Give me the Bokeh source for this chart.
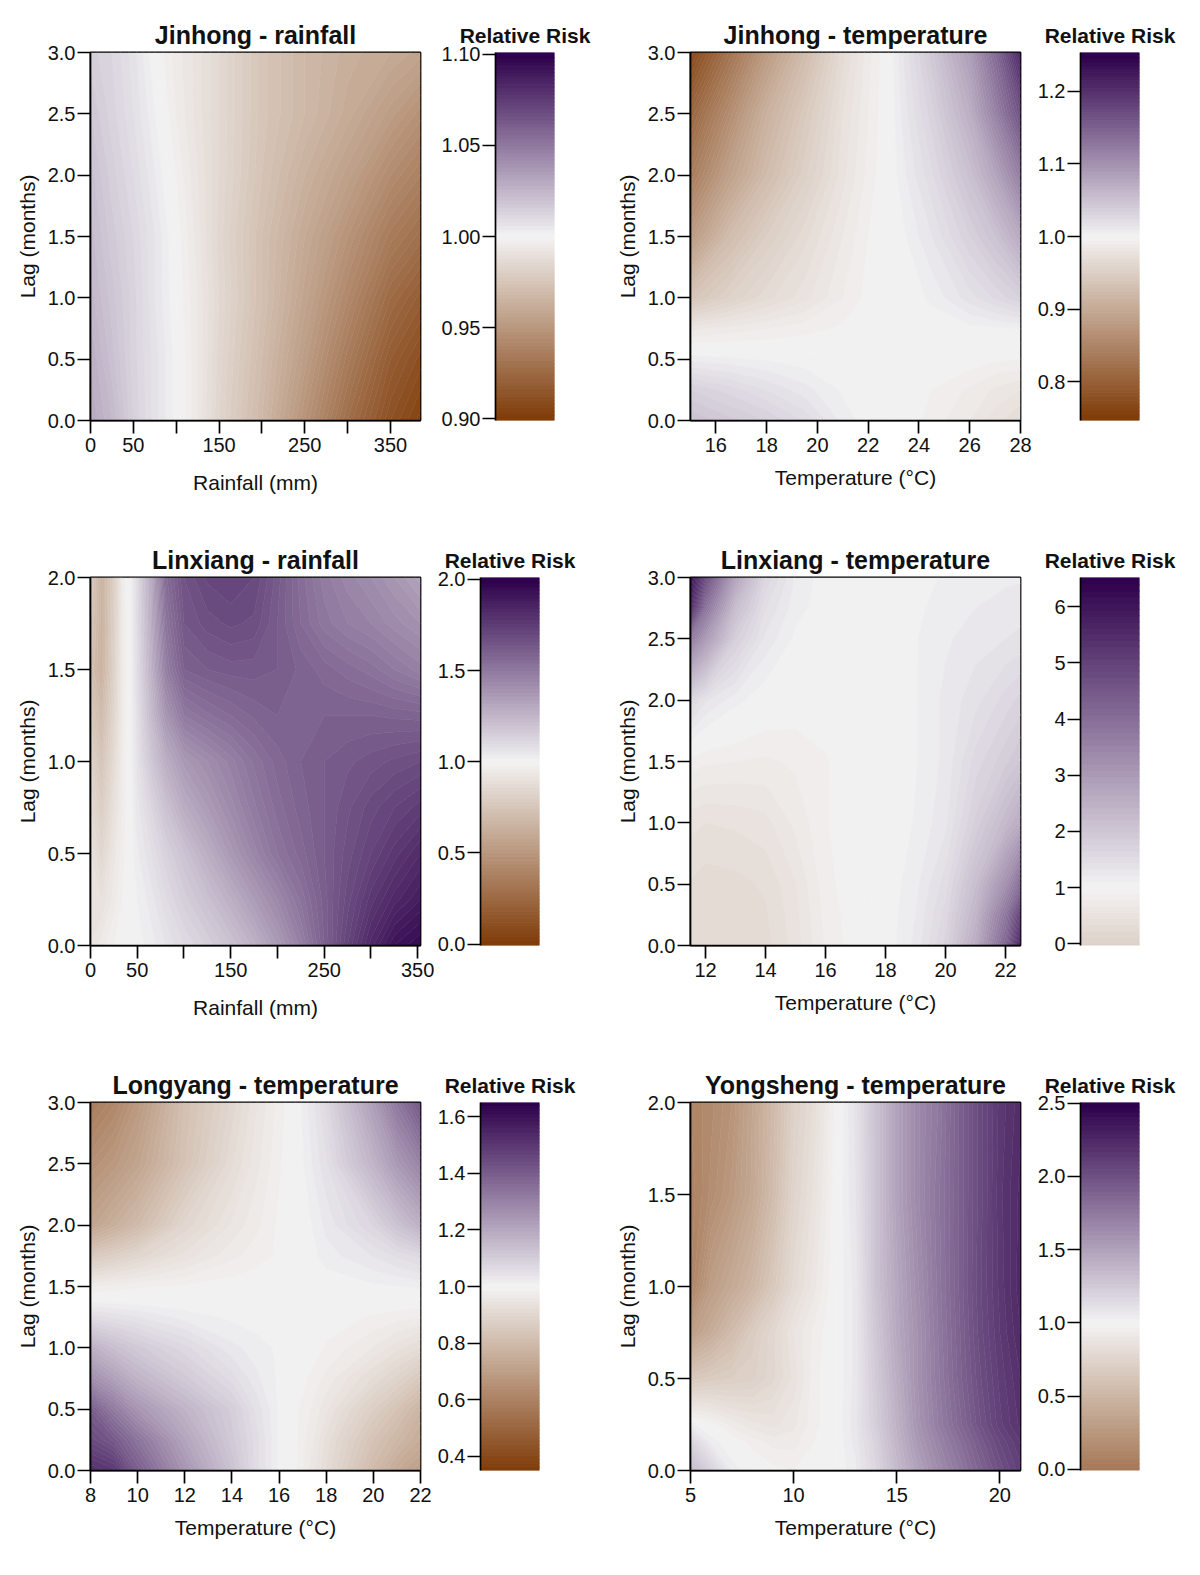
from bokeh.plotting import figure
from bokeh.layouts import row, column
from bokeh.models import FixedTicker, Range1d
from bokeh.embed import file_html
from bokeh.resources import INLINE
import numpy as np

FONT = "Liberation Sans"
TEXT = "#111111"

# ---- Panel 1: Jinhong rainfall
jr_x = [0, 25, 50, 75, 100, 125, 150, 200, 250, 300, 350, 385]
jr_lag = [0, 0.5, 1, 1.5, 2, 2.5, 3]
jr_rr = [
    [1.030, 1.024, 1.014, 1.007, 1.001, .994, .984, .968, .948, .928, .912, .905],
    [1.028, 1.021, 1.013, 1.007, 1.001, .994, .985, .970, .953, .935, .918, .911],
    [1.025, 1.019, 1.013, 1.006, 1.000, .994, .986, .972, .957, .942, .926, .919],
    [1.023, 1.017, 1.012, 1.006, .9995, .993, .985, .972, .960, .948, .935, .929],
    [1.021, 1.015, 1.010, 1.004, .998, .992, .986, .974, .964, .955, .944, .938],
    [1.018, 1.013, 1.008, 1.002, .996, .991, .986, .975, .968, .961, .953, .947],
    [1.015, 1.012, 1.007, 1.000, .995, .991, .986, .975, .968, .963, .960, .957],
]
# ---- Panel 2: Jinhong temperature
jt_x = [15, 16.5, 18, 19.5, 21, 22, 22.8, 23.5, 24.5, 26, 27, 28]
jt_lag = [0, .25, .5, .75, 1, 1.5, 2, 2.5, 3]
jt_rr = [
    [1.050, 1.042, 1.035, 1.024, 1.008, 1.002, 1.000, .998, .993, .985, .977, .970],
    [1.035, 1.028, 1.020, 1.012, 1.004, 1.001, 1.000, .999, .995, .989, .984, .980],
    [1.008, 1.006, 1.004, 1.002, 1.001, 1.000, 1.000, 1.000, .999, .998, .996, .995],
    [.983, .987, .990, .993, .996, .999, 1.000, 1.001, 1.002, 1.003, 1.004, 1.005],
    [.937, .955, .968, .978, .990, .997, 1.000, 1.002, 1.006, 1.018, 1.026, 1.035],
    [.880, .925, .950, .968, .985, .995, 1.000, 1.005, 1.015, 1.035, 1.050, 1.075],
    [.840, .887, .925, .953, .978, .992, 1.000, 1.010, 1.024, 1.052, 1.080, 1.120],
    [.810, .860, .910, .943, .975, .990, 1.000, 1.014, 1.033, 1.070, 1.115, 1.165],
    [.770, .825, .880, .925, .968, .988, 1.000, 1.018, 1.043, 1.088, 1.140, 1.210],
]
# ---- Panel 3: Linxiang rainfall
lr_x = [0, 12, 25, 35, 42, 50, 65, 80, 100, 125, 150, 175, 200, 225, 250, 275, 300, 325, 353]
lr_lag = [0, .25, .5, .75, 1, 1.25, 1.5, 1.75, 2]
lr_rr = [
    [.92, .95, .98, .995, 1.000, 1.010, 1.030, 1.060, 1.100, 1.145, 1.200, 1.270, 1.360, 1.470, 1.600, 1.720, 1.830, 1.920, 1.960],
    [.91, .90, .95, .985, 1.000, 1.020, 1.050, 1.095, 1.150, 1.210, 1.280, 1.360, 1.440, 1.525, 1.610, 1.690, 1.770, 1.830, 1.880],
    [.90, .85, .93, .975, 1.000, 1.035, 1.080, 1.135, 1.200, 1.285, 1.370, 1.450, 1.520, 1.570, 1.620, 1.670, 1.720, 1.770, 1.820],
    [.86, .80, .90, .970, 1.000, 1.050, 1.120, 1.200, 1.290, 1.360, 1.430, 1.495, 1.550, 1.590, 1.620, 1.655, 1.690, 1.720, 1.750],
    [.82, .75, .87, .970, 1.000, 1.070, 1.180, 1.280, 1.370, 1.420, 1.470, 1.525, 1.570, 1.600, 1.620, 1.635, 1.650, 1.665, 1.680],
    [.77, .70, .84, .965, 1.000, 1.080, 1.230, 1.380, 1.500, 1.535, 1.560, 1.585, 1.600, 1.600, 1.600, 1.600, 1.600, 1.595, 1.590],
    [.72, .65, .82, .965, 1.000, 1.090, 1.270, 1.470, 1.600, 1.620, 1.630, 1.630, 1.620, 1.595, 1.570, 1.550, 1.530, 1.500, 1.470],
    [.75, .65, .81, .965, 1.000, 1.095, 1.290, 1.510, 1.640, 1.670, 1.685, 1.675, 1.620, 1.560, 1.510, 1.480, 1.460, 1.430, 1.400],
    [.78, .65, .80, .970, 1.000, 1.100, 1.300, 1.550, 1.660, 1.705, 1.720, 1.700, 1.630, 1.550, 1.490, 1.450, 1.420, 1.380, 1.330],
]
# ---- Panel 4: Linxiang temperature
lt_x = [11.5, 12, 13, 14, 15, 16, 17, 18, 19, 20, 21, 22, 22.5]
lt_lag = [0, .25, .5, 1, 1.5, 2, 2.5, 2.75, 3]
lt_rr = [
    [.32, .25, .25, .30, .50, .80, .95, 1.03, 1.25, 1.70, 2.60, 4.20, 5.70],
    [.32, .27, .27, .32, .52, .82, .96, 1.03, 1.22, 1.60, 2.40, 3.80, 5.00],
    [.33, .28, .30, .36, .55, .85, .97, 1.03, 1.18, 1.50, 2.20, 3.20, 4.00],
    [.48, .45, .47, .52, .70, .88, .97, 1.02, 1.12, 1.30, 1.80, 2.30, 2.60],
    [.85, .80, .78, .76, .80, .88, .96, 1.00, 1.10, 1.25, 1.60, 1.85, 2.00],
    [1.60, 1.35, 1.15, 1.02, .97, .95, .98, 1.02, 1.10, 1.25, 1.40, 1.60, 1.70],
    [3.70, 3.00, 1.80, 1.30, 1.08, 1.02, 1.02, 1.05, 1.10, 1.20, 1.28, 1.33, 1.35],
    [5.50, 3.90, 2.20, 1.45, 1.15, 1.05, 1.03, 1.05, 1.09, 1.15, 1.22, 1.28, 1.30],
    [6.10, 4.80, 2.80, 1.65, 1.20, 1.05, 1.03, 1.05, 1.08, 1.12, 1.16, 1.19, 1.20],
]
# ---- Panel 5: Longyang temperature
ly_x = [8, 9, 10, 12, 14, 15, 16, 16.7, 17.5, 18, 20, 21, 22]
ly_lag = [0, .25, .5, .75, 1, 1.25, 1.4, 1.5, 1.75, 2, 2.5, 3]
ly_rr = [
    [1.52, 1.50, 1.40, 1.25, 1.13, 1.06, 1.01, .99, .95, .92, .80, .74, .70],
    [1.45, 1.41, 1.34, 1.21, 1.11, 1.06, 1.01, .99, .96, .93, .83, .79, .75],
    [1.40, 1.32, 1.25, 1.17, 1.10, 1.05, 1.01, .99, .97, .95, .87, .83, .78],
    [1.27, 1.22, 1.17, 1.11, 1.06, 1.03, 1.01, 1.00, .98, .97, .92, .89, .85],
    [1.18, 1.14, 1.11, 1.07, 1.03, 1.02, 1.01, 1.00, .995, .985, .96, .94, .92],
    [1.06, 1.05, 1.04, 1.02, 1.01, 1.005, 1.00, 1.00, .998, .995, .985, .98, .975],
    [1.00, 1.00, 1.00, 1.00, 1.00, 1.00, 1.00, 1.00, 1.00, 1.00, 1.00, 1.00, 1.00],
    [.975, .98, .985, .99, .995, .998, 1.00, 1.00, 1.00, 1.003, 1.01, 1.012, 1.015],
    [.85, .875, .90, .94, .97, .98, .99, 1.00, 1.01, 1.02, 1.04, 1.055, 1.07],
    [.72, .76, .80, .90, .95, .97, .99, 1.00, 1.015, 1.03, 1.08, 1.13, 1.18],
    [.65, .68, .72, .83, .92, .955, .985, 1.00, 1.03, 1.05, 1.17, 1.24, 1.30],
    [.58, .62, .68, .82, .90, .945, .98, 1.00, 1.04, 1.07, 1.23, 1.33, 1.42],
]
# ---- Panel 6: Yongsheng temperature
ys_x = [5, 6, 7, 8, 9, 10, 11, 12, 13, 14, 15, 16, 17, 18, 19, 20, 21]
ys_lag = [0, .15, .25, .5, .75, 1, 1.5, 2]
ys_rr = [
    [1.35, 1.20, 1.05, 1.00, .98, .97, .98, 1.00, 1.05, 1.18, 1.35, 1.50, 1.63, 1.75, 1.88, 2.00, 2.10],
    [1.20, 1.05, 1.00, .96, .93, .93, .97, 1.00, 1.07, 1.20, 1.38, 1.55, 1.68, 1.80, 1.93, 2.05, 2.14],
    [1.04, .99, .93, .89, .87, .90, .96, 1.00, 1.08, 1.23, 1.40, 1.58, 1.72, 1.85, 1.98, 2.10, 2.18],
    [.65, .68, .70, .72, .78, .86, .96, 1.00, 1.07, 1.25, 1.43, 1.60, 1.74, 1.88, 2.01, 2.12, 2.20],
    [.30, .42, .55, .68, .78, .88, .95, 1.00, 1.07, 1.27, 1.46, 1.60, 1.75, 1.89, 2.03, 2.14, 2.23],
    [.10, .30, .40, .50, .65, .80, .90, 1.00, 1.07, 1.30, 1.47, 1.62, 1.76, 1.90, 2.04, 2.15, 2.25],
    [.08, .17, .26, .38, .55, .75, .86, .99, 1.09, 1.30, 1.50, 1.65, 1.77, 1.90, 2.03, 2.16, 2.24],
    [.10, .15, .22, .37, .53, .72, .83, .98, 1.10, 1.30, 1.50, 1.65, 1.75, 1.90, 2.03, 2.15, 2.22],
]

# Tick labels
rain_ticks_a = [0, 50, 100, 150, 200, 250, 300, 350]
rain_labels = ["0", "50", "", "150", "", "250", "", "350"]
lag3_ticks = [0, .5, 1, 1.5, 2, 2.5, 3]
lag2_ticks = [0, .5, 1, 1.5, 2]

panels = [
    dict(title="Jinhong - rainfall", x=jr_x, y=jr_lag, z=jr_rr, xr=(0, 385), yr=(0, 3), xl="Rainfall (mm)",
         xt=rain_ticks_a, xtl=rain_labels, yt=lag3_ticks, d=.1,
         cb=(.899, 1.101), cbt=[.90, .95, 1.00, 1.05, 1.10], cbl=["0.90", "0.95", "1.00", "1.05", "1.10"],
         R=17, cbx=495, std=16),
    dict(title="Jinhong - temperature", x=jt_x, y=jt_lag, z=jt_rr, xr=(15, 28), yr=(0, 3), xl="Temperature (°C)",
         xt=[16, 18, 20, 22, 24, 26, 28], xtl=["16", "18", "20", "22", "24", "26", "28"], yt=lag3_ticks, d=.25,
         cb=(.747, 1.253), cbt=[.8, .9, 1.0, 1.1, 1.2], cbl=["0.8", "0.9", "1.0", "1.1", "1.2"],
         R=14, cbx=1080, std=11),
    dict(title="Linxiang - rainfall", x=lr_x, y=lr_lag, z=lr_rr, xr=(0, 353), yr=(0, 2), xl="Rainfall (mm)",
         xt=rain_ticks_a, xtl=rain_labels, yt=lag2_ticks, d=1.0,
         cb=(-.008, 2.01), cbt=[0, .5, 1, 1.5, 2], cbl=["0.0", "0.5", "1.0", "1.5", "2.0"],
         R=14, cbx=480, std=16),
    dict(title="Linxiang - temperature", x=lt_x, y=lt_lag, z=lt_rr, xr=(11.5, 22.5), yr=(0, 3), xl="Temperature (°C)",
         xt=[12, 14, 16, 18, 20, 22], xtl=["12", "14", "16", "18", "20", "22"], yt=lag3_ticks, d=5.5,
         cb=(-.03, 6.52), cbt=[0, 1, 2, 3, 4, 5, 6], cbl=["0", "1", "2", "3", "4", "5", "6"],
         R=14, cbx=1080, std=11),
    dict(title="Longyang - temperature", x=ly_x, y=ly_lag, z=ly_rr, xr=(8, 22), yr=(0, 3), xl="Temperature (°C)",
         xt=[8, 10, 12, 14, 16, 18, 20, 22], xtl=["8", "10", "12", "14", "16", "18", "20", "22"], yt=lag3_ticks, d=.65,
         cb=(.35, 1.65), cbt=[.4, .6, .8, 1.0, 1.2, 1.4, 1.6], cbl=["0.4", "0.6", "0.8", "1.0", "1.2", "1.4", "1.6"],
         R=12, cbx=480, std=11),
    dict(title="Yongsheng - temperature", x=ys_x, y=ys_lag, z=ys_rr, xr=(5, 21), yr=(0, 2), xl="Temperature (°C)",
         xt=[5, 10, 15, 20], xtl=["5", "10", "15", "20"], yt=lag2_ticks, d=1.5,
         cb=(-.008, 2.505), cbt=[0, .5, 1, 1.5, 2, 2.5], cbl=["0.0", "0.5", "1.0", "1.5", "2.0", "2.5"],
         R=14, cbx=1080, std=11),
]

STOPS = [(0x7f, 0x3b, 0x08), (0xf3, 0xf3, 0xf3), (0x2d, 0x00, 0x4b)]
NB = 100
FW = 330


def ramp(t):
    if t < .5:
        a, b, f = STOPS[0], STOPS[1], t * 2
    else:
        a, b, f = STOPS[1], STOPS[2], (t - .5) * 2
    return "#%02x%02x%02x" % tuple(int(round(a[i] + (b[i] - a[i]) * f)) for i in range(3))


def style_axis(ax, size="20px"):
    ax.major_label_text_font = FONT
    ax.major_label_text_font_size = size
    ax.major_label_text_color = TEXT
    ax.major_tick_line_color = "black"
    ax.major_tick_line_width = 1.7
    ax.major_tick_out = 13
    ax.major_tick_in = 0
    ax.minor_tick_line_color = None
    ax.axis_line_color = "black"
    ax.axis_line_width = 1.7
    ax.axis_label_text_font = FONT
    ax.axis_label_text_font_size = "21px"
    ax.axis_label_text_font_style = "normal"
    ax.axis_label_text_color = TEXT


def make_panel(P, last_row, col_left, left_border):
    levels = [1 - P["d"] + 2 * P["d"] * i / NB for i in range(NB + 1)]
    fills = [ramp((i + .5) / NB) for i in range(NB)]
    lines = [ramp(i / NB) for i in range(NB + 1)]
    bottom = 90 if last_row else 105
    f = figure(frame_width=FW, frame_height=368, output_backend="svg", toolbar_location=None,
               x_range=Range1d(*P["xr"]), y_range=Range1d(*P["yr"]),
               min_border_left=left_border, min_border_right=P["R"], min_border_top=52, min_border_bottom=bottom)
    f.contour(x=P["x"], y=P["y"], z=np.array(P["z"]), levels=levels, fill_color=fills,
              line_color=lines, line_width=0.8)
    f.grid.visible = False
    f.background_fill_color = "#f3f3f3"
    f.outline_line_color = "black"
    f.outline_line_width = 1.8
    f.title.text = P["title"]
    f.title.align = "center"
    f.title.text_font = FONT
    f.title.text_font_size = "25px"
    f.title.text_font_style = "bold"
    f.title.text_color = TEXT
    f.title.standoff = 8
    f.xaxis.ticker = FixedTicker(ticks=P["xt"])
    f.xaxis.major_label_overrides = dict(zip(P["xt"], P["xtl"]))
    f.yaxis.ticker = FixedTicker(ticks=P["yt"])
    f.yaxis.major_label_overrides = {t: "%.1f" % t for t in P["yt"]}
    f.xaxis.axis_label = P["xl"]
    f.yaxis.axis_label = "Lag (months)"
    style_axis(f.xaxis[0])
    style_axis(f.yaxis[0])
    f.xaxis.major_label_standoff = 4
    f.yaxis.major_label_standoff = 2
    f.xaxis.axis_label_standoff = P["std"]
    f.yaxis.axis_label_standoff = 6

    frame_right = col_left + left_border + FW + P["R"]
    cb_left = P["cbx"] - frame_right
    total = (608 if col_left == 0 else 1192) - frame_right
    c = figure(frame_width=59, frame_height=368, output_backend="svg", toolbar_location=None,
               x_range=Range1d(0, 1), y_range=Range1d(*P["cb"]),
               min_border_left=cb_left, min_border_right=total - cb_left - 59,
               min_border_top=52, min_border_bottom=bottom)
    bar_bottom = [min(levels[0], P["cb"][0])] + levels[1:-1]
    bar_top = levels[1:-1] + [max(levels[-1], P["cb"][1])]
    c.quad(left=0, right=1, bottom=bar_bottom, top=bar_top, fill_color=fills, line_color=fills, line_width=1.0)
    c.grid.visible = False
    c.xaxis.visible = False
    c.outline_line_color = None
    c.title.text = "Relative Risk"
    c.title.align = "center"
    c.title.text_font = FONT
    c.title.text_font_size = "21px"
    c.title.text_font_style = "bold"
    c.title.text_color = TEXT
    c.title.standoff = 12
    c.yaxis.ticker = FixedTicker(ticks=P["cbt"])
    c.yaxis.major_label_overrides = dict(zip(P["cbt"], P["cbl"]))
    style_axis(c.yaxis[0])
    c.yaxis.major_label_standoff = 2
    return f, c


rows = []
for i in range(3):
    last = i == 2
    a, b = make_panel(panels[2 * i], last, 0, 90)
    e, g = make_panel(panels[2 * i + 1], last, 608, 82)
    rows.append(row(a, b, e, g, spacing=0))

page = column(*rows, spacing=0)
open("out.html", "w").write(file_html(page, INLINE))
